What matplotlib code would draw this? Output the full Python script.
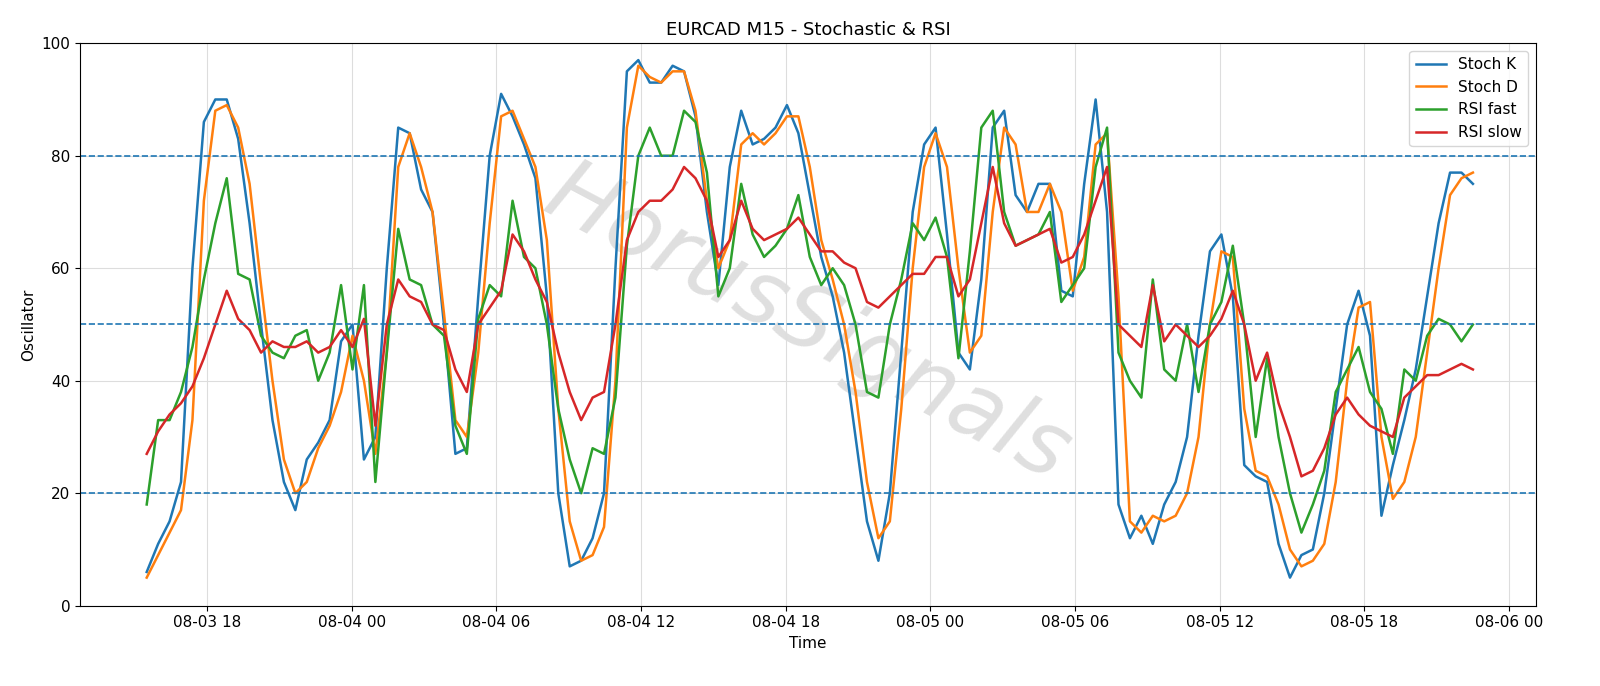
import numpy as np
import pandas as pd
import matplotlib
matplotlib.use("Agg")
import matplotlib.pyplot as plt
import matplotlib.dates as mdates

# samples, ~every 2 bars, 08-03 15:30 -> 08-05 22:30
stoch_k = [6, 11, 15, 22, 60, 86, 90, 90, 83, 68, 50, 33, 22, 17, 26, 29, 33, 47, 50, 26,
           30, 60, 85, 84, 74, 70, 50, 27, 28, 55, 80, 91, 87, 82, 76, 55, 20, 7, 8, 12,
           20, 60, 95, 97, 93, 93, 96, 95, 87, 70, 57, 78, 88, 82, 83, 85, 89, 84, 73, 62,
           55, 45, 30, 15, 8, 20, 45, 70, 82, 85, 66, 45, 42, 58, 85, 88, 73, 70, 75, 75,
           56, 55, 75, 90, 70, 18, 12, 16, 11, 18, 22, 30, 48, 63, 66, 55, 25, 23, 22, 11,
           5, 9, 10, 20, 35, 50, 56, 48, 16, 25, 33, 42, 55, 68, 77, 77, 75]
stoch_d = [5, 9, 13, 17, 33, 72, 88, 89, 85, 75, 57, 40, 26, 20, 22, 28, 32, 38, 48, 40,
           27, 45, 78, 84, 78, 70, 52, 33, 30, 45, 68, 87, 88, 83, 78, 65, 35, 15, 8, 9,
           14, 40, 85, 96, 94, 93, 95, 95, 88, 72, 60, 65, 82, 84, 82, 84, 87, 87, 78, 65,
           58, 50, 38, 22, 12, 15, 35, 60, 78, 84, 78, 60, 45, 48, 70, 85, 82, 70, 70, 75,
           70, 56, 62, 82, 84, 55, 15, 13, 16, 15, 16, 20, 30, 50, 63, 62, 35, 24, 23, 18,
           10, 7, 8, 11, 22, 40, 53, 54, 30, 19, 22, 30, 45, 60, 73, 76, 77]
rsi_fast = [18, 33, 33, 38, 46, 58, 68, 76, 59, 58, 48, 45, 44, 48, 49, 40, 45, 57, 42, 57,
            22, 45, 67, 58, 57, 50, 48, 32, 27, 51, 57, 55, 72, 62, 60, 50, 35, 26, 20, 28,
            27, 37, 64, 80, 85, 80, 80, 88, 86, 77, 55, 60, 75, 66, 62, 64, 67, 73, 62, 57,
            60, 57, 50, 38, 37, 50, 58, 68, 65, 69, 62, 44, 63, 85, 88, 70, 64, 65, 66, 70,
            54, 57, 60, 78, 85, 45, 40, 37, 58, 42, 40, 50, 38, 50, 54, 64, 50, 30, 44, 30,
            20, 13, 18, 24, 38, 42, 46, 38, 35, 27, 42, 40, 48, 51, 50, 47, 50]
rsi_slow = [27, 31, 34, 36, 39, 44, 50, 56, 51, 49, 45, 47, 46, 46, 47, 45, 46, 49, 46, 51,
            32, 50, 58, 55, 54, 50, 49, 42, 38, 50, 53, 56, 66, 63, 58, 54, 45, 38, 33, 37,
            38, 50, 65, 70, 72, 72, 74, 78, 76, 72, 62, 65, 72, 67, 65, 66, 67, 69, 66, 63,
            63, 61, 60, 54, 53, 55, 57, 59, 59, 62, 62, 55, 58, 68, 78, 68, 64, 65, 66, 67,
            61, 62, 66, 72, 78, 50, 48, 46, 57, 47, 50, 48, 46, 48, 51, 56, 50, 40, 45, 36,
            30, 23, 24, 28, 34, 37, 34, 32, 31, 30, 37, 39, 41, 41, 42, 43, 42]

times = pd.date_range("2024-08-03 15:30", "2024-08-05 22:30", periods=len(stoch_k))

fig, ax = plt.subplots(figsize=(16, 6.86), dpi=100)
fig.subplots_adjust(left=0.05, right=0.96, top=0.937, bottom=0.117)

ax.plot(times, stoch_k, color="#1f77b4", lw=1.8, label="Stoch K")
ax.plot(times, stoch_d, color="#ff7f0e", lw=1.8, label="Stoch D")
ax.plot(times, rsi_fast, color="#2ca02c", lw=1.8, label="RSI fast")
ax.plot(times, rsi_slow, color="#d62728", lw=1.8, label="RSI slow")

for lvl in (20, 50, 80):
    ax.axhline(lvl, color="#1f77b4", ls="--", lw=1.2)

ax.set_ylim(0, 100)
ax.set_xlim(pd.Timestamp("2024-08-03 12:44"), pd.Timestamp("2024-08-06 01:07"))
ax.xaxis.set_major_locator(mdates.HourLocator(byhour=[0, 6, 12, 18]))
ax.xaxis.set_major_formatter(mdates.DateFormatter("%m-%d %H"))
ax.grid(True, color="#dddddd", lw=0.8)
ax.tick_params(labelsize=11)
ax.set_xlabel("Time", fontsize=11)
ax.set_ylabel("Oscillator", fontsize=11)
ax.set_title("EURCAD M15 - Stochastic & RSI", fontsize=13)
ax.legend(loc="upper right", fontsize=11)

# watermark
ax.text(0.5, 0.5, "HorusSignals", transform=ax.transAxes, fontsize=64, color="gray",
        alpha=0.25, rotation=-28, ha="center", va="center", style="italic", zorder=0)

fig.savefig("out.png", dpi=100)
